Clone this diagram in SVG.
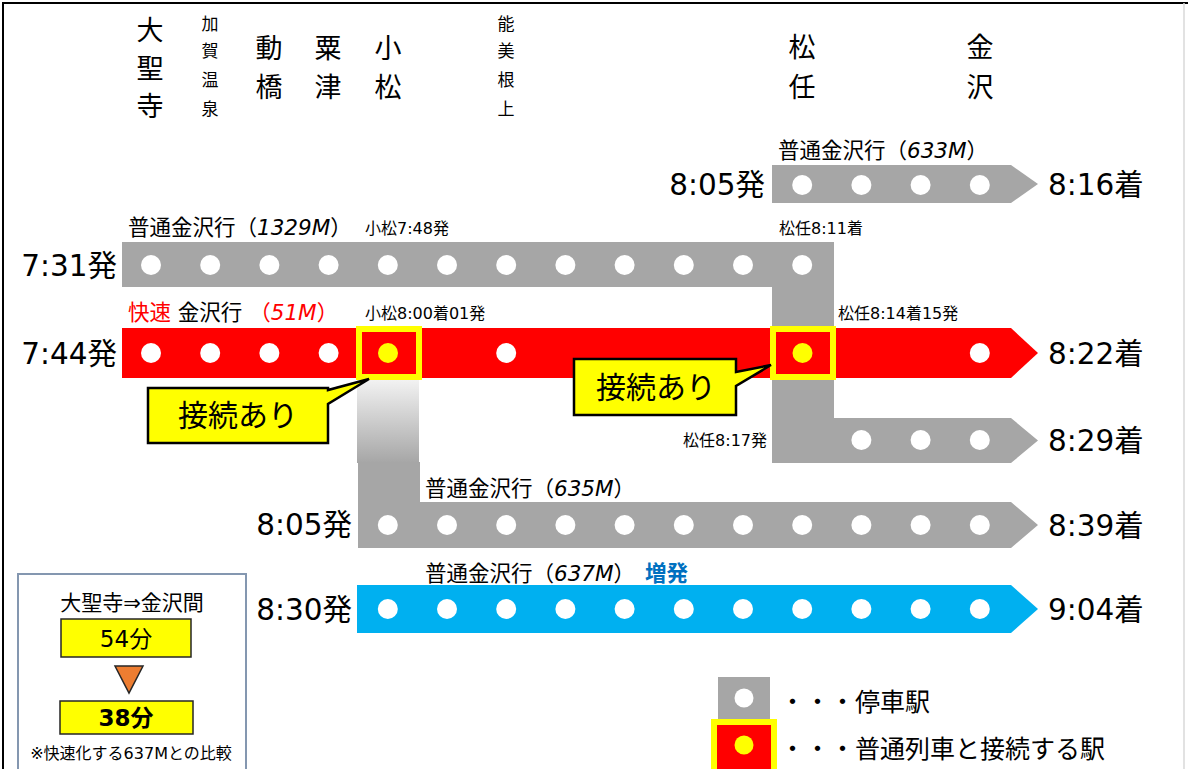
<svg xmlns="http://www.w3.org/2000/svg" width="1188" height="769" viewBox="0 0 1188 769">
<defs>
<style>
.t{font-family:"DejaVu Sans","Noto Sans CJK JP",sans-serif;fill:#000;dominant-baseline:central}
.j{font-family:"Noto Sans CJK JP","Noto Sans",sans-serif}
.st{font-size:27px;text-anchor:middle}
.ss{font-size:17px;text-anchor:middle}
.tm{font-size:29.5px}
.lb{font-size:21.5px}
.sm{font-size:16px}
.it{font-style:italic}
.red{fill:#FF0000}
.gray{fill:#A6A6A6}
.cyan{fill:#00B0F0}
.dot{fill:#FFFFFF}
.ydot{fill:#FFFF00}
.hl{fill:none;stroke:#FFFF00;stroke-width:6}
.call{fill:#FFFF00;stroke:#000;stroke-width:2.5;stroke-linejoin:miter}
</style>
<linearGradient id="fade" x1="0" y1="0" x2="0" y2="1">
<stop offset="0" stop-color="#F2F2F2"/>
<stop offset="1" stop-color="#A6A6A6"/>
</linearGradient>
</defs>
<rect x="0" y="0" width="1188" height="769" fill="#FFFFFF"/>
<path d="M3,769 V3 H1188" fill="none" stroke="#000" stroke-width="2"/>
<line x1="1184" y1="3" x2="1184" y2="769" stroke="#D9D9D9" stroke-width="1.5"/>

<g id="stations">
<text class="t j st" x="150" y="28">大</text>
<text class="t j st" x="150" y="66">聖</text>
<text class="t j st" x="150" y="104">寺</text>
<text class="t j ss" x="210" y="22">加</text>
<text class="t j ss" x="210" y="49">賀</text>
<text class="t j ss" x="210" y="78">温</text>
<text class="t j ss" x="210" y="107">泉</text>
<text class="t j st" x="269" y="46">動</text>
<text class="t j st" x="269" y="85">橋</text>
<text class="t j st" x="328" y="46">粟</text>
<text class="t j st" x="328" y="85">津</text>
<text class="t j st" x="388" y="46">小</text>
<text class="t j st" x="388" y="85">松</text>
<text class="t j ss" x="506" y="22">能</text>
<text class="t j ss" x="506" y="49">美</text>
<text class="t j ss" x="506" y="78">根</text>
<text class="t j ss" x="506" y="107">上</text>
<text class="t j st" x="802" y="45">松</text>
<text class="t j st" x="802" y="85">任</text>
<text class="t j st" x="980" y="45">金</text>
<text class="t j st" x="980" y="85">沢</text>
</g>

<g id="connectors">
<rect x="357" y="380" width="62" height="83" fill="url(#fade)"/>
</g>

<g id="train-633M">
<text class="t lb" x="778" y="150">普通金沢行（<tspan class="it">633M</tspan>）</text>
<text class="t tm" x="765" y="185" text-anchor="end">8:05発</text>
<path class="gray" d="M772,165 H1011 L1038,184 L1011,203 H772 Z"/>
<g class="dot">
<circle cx="802.2" cy="185" r="10"/><circle cx="861.4" cy="185" r="10"/><circle cx="920.6" cy="185" r="10"/><circle cx="979.8" cy="185" r="10"/>
</g>
<text class="t tm" x="1048" y="185">8:16着</text>
</g>

<g id="train-1329M">
<text class="t lb" x="128" y="227">普通金沢行（<tspan class="it">1329M</tspan>）</text>
<text class="t sm" x="365" y="228">小松7:48発</text>
<text class="t sm" x="779" y="228">松任8:11着</text>
<text class="t tm" x="117" y="266" text-anchor="end">7:31発</text>
<path class="gray" d="M122,242 H834 V418 H1011 L1038,440.5 L1011,463 H772 V287 H122 Z"/>
<g class="dot">
<circle cx="151" cy="265" r="10"/><circle cx="210.2" cy="265" r="10"/><circle cx="269.4" cy="265" r="10"/><circle cx="328.6" cy="265" r="10"/><circle cx="387.8" cy="265" r="10"/><circle cx="447" cy="265" r="10"/><circle cx="506.2" cy="265" r="10"/><circle cx="565.4" cy="265" r="10"/><circle cx="624.6" cy="265" r="10"/><circle cx="683.8" cy="265" r="10"/><circle cx="743" cy="265" r="10"/><circle cx="802.2" cy="265" r="10"/>
<circle cx="861.4" cy="440" r="10"/><circle cx="920.6" cy="440" r="10"/><circle cx="979.8" cy="440" r="10"/>
</g>
<text class="t sm" x="767" y="440" text-anchor="end">松任8:17発</text>
<text class="t tm" x="1048" y="441">8:29着</text>
</g>

<g id="train-51M">
<text class="t lb" x="128" y="312"><tspan class="red">快速</tspan> 金沢行 <tspan class="red">（<tspan class="it">51M</tspan>）</tspan></text>
<text class="t sm" x="365" y="313">小松8:00着01発</text>
<text class="t sm" x="838" y="313">松任8:14着15発</text>
<text class="t tm" x="117" y="354" text-anchor="end">7:44発</text>
<path class="red" d="M122,328 H1011 L1038,353 L1011,378 H122 Z"/>
<rect class="hl" x="359" y="329" width="60" height="48"/>
<rect class="hl" x="773" y="329" width="60" height="48"/>
<g class="dot">
<circle cx="151" cy="353" r="10"/><circle cx="210.2" cy="353" r="10"/><circle cx="269.4" cy="353" r="10"/><circle cx="328.6" cy="353" r="10"/><circle cx="506.2" cy="353" r="10"/><circle cx="979.8" cy="353" r="10"/>
</g>
<g class="ydot">
<circle cx="388" cy="353" r="10"/><circle cx="802.5" cy="353" r="10"/>
</g>
<text class="t tm" x="1048" y="354">8:22着</text>
</g>

<g id="train-635M">
<text class="t lb" x="425" y="488">普通金沢行（<tspan class="it">635M</tspan>）</text>
<text class="t tm" x="352" y="525" text-anchor="end">8:05発</text>
<path class="gray" d="M358,462 H420 V502 H1011 L1038,525 L1011,548 H358 Z"/>
<g class="dot">
<circle cx="387.8" cy="525" r="10"/><circle cx="447" cy="525" r="10"/><circle cx="506.2" cy="525" r="10"/><circle cx="565.4" cy="525" r="10"/><circle cx="624.6" cy="525" r="10"/><circle cx="683.8" cy="525" r="10"/><circle cx="743" cy="525" r="10"/><circle cx="802.2" cy="525" r="10"/><circle cx="861.4" cy="525" r="10"/><circle cx="920.6" cy="525" r="10"/><circle cx="979.8" cy="525" r="10"/>
</g>
<text class="t tm" x="1048" y="526">8:39着</text>
</g>

<g id="train-637M">
<text class="t lb" x="425" y="573">普通金沢行（<tspan class="it">637M</tspan>）</text>
<text class="t lb" x="645" y="573" font-weight="bold" style="fill:#0070C0">増発</text>
<text class="t tm" x="352" y="610" text-anchor="end">8:30発</text>
<path class="cyan" d="M357,585 H1011 L1038,609 L1011,633 H357 Z"/>
<g class="dot">
<circle cx="387.8" cy="609" r="10"/><circle cx="447" cy="609" r="10"/><circle cx="506.2" cy="609" r="10"/><circle cx="565.4" cy="609" r="10"/><circle cx="624.6" cy="609" r="10"/><circle cx="683.8" cy="609" r="10"/><circle cx="743" cy="609" r="10"/><circle cx="802.2" cy="609" r="10"/><circle cx="861.4" cy="609" r="10"/><circle cx="920.6" cy="609" r="10"/><circle cx="979.8" cy="609" r="10"/>
</g>
<text class="t tm" x="1048" y="610">9:04着</text>
</g>

<g id="callout-komatsu">
<path class="call" d="M148,388 H328 V390 L369,379 L328,404 V443 H148 Z"/>
<text class="t" x="238" y="415" font-size="30" text-anchor="middle">接続あり</text>
</g>

<g id="callout-matto">
<path class="call" d="M574,359 H736 V372 L771,365 L736,386 V415 H574 Z"/>
<text class="t" x="656" y="387" font-size="30" text-anchor="middle">接続あり</text>
</g>

<g id="time-box">
<rect x="18" y="574" width="228" height="196" fill="#FFFFFF" stroke="#8497B0" stroke-width="2"/>
<text class="t" x="132" y="603" font-size="21" text-anchor="middle">大聖寺⇒金沢間</text>
<rect x="61" y="619" width="130" height="38" fill="#FFFF00" stroke="#262626" stroke-width="1.5"/>
<text class="t" x="126" y="639" font-size="23" text-anchor="middle">54分</text>
<path d="M115,666 H143 L129,693 Z" fill="#ED7D31" stroke="#262626" stroke-width="1.5"/>
<rect x="60" y="701" width="133" height="33" fill="#FFFF00" stroke="#262626" stroke-width="1.5"/>
<text class="t" x="126" y="718" font-size="23" font-weight="bold" text-anchor="middle">38分</text>
<text class="t" x="131" y="753" font-size="16" text-anchor="middle">※快速化する637Mとの比較</text>
</g>

<g id="legend">
<rect class="gray" x="718" y="677" width="52" height="42"/>
<circle class="dot" cx="744" cy="698" r="9.5"/>
<text class="t j" x="780" y="700" font-size="25">・・・停車駅</text>
<rect x="714" y="722" width="60" height="50" fill="#FF0000" stroke="#FFFF00" stroke-width="6"/>
<circle class="ydot" cx="744" cy="745" r="9.5"/>
<text class="t j" x="780" y="747" font-size="25">・・・普通列車と接続する駅</text>
</g>
</svg>
